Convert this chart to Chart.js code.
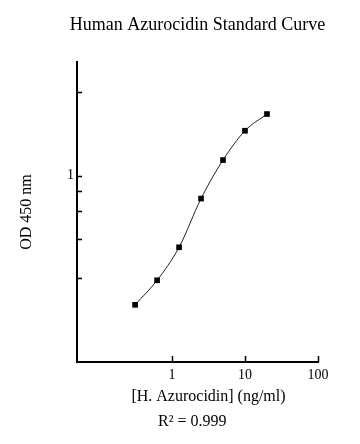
<!DOCTYPE html>
<html>
<head>
<meta charset="utf-8">
<script src="https://cdn.jsdelivr.net/npm/chart.js@4.4.1/dist/chart.umd.min.js"></script>
<style>
  html, body { margin: 0; padding: 0; background: #ffffff; }
  #wrap { width: 360px; height: 444px; position: relative; }
</style>
</head>
<body>
<div id="wrap"><canvas id="c"></canvas></div>
<script>
// ---- data ----
const concentrations = [0.3125, 0.625, 1.25, 2.5, 5, 10, 20];      // ng/ml
const odValues       = [0.156, 0.222, 0.357, 0.72, 1.253, 1.911, 2.43]; // OD 450 nm
const xTickValues = [1, 10, 100];
const yTickValues = [3.35, 1, 0.8, 0.6, 0.4, 0.23];
const yLabelled   = [1];
const titleText = 'Human Azurocidin Standard Curve';
const xTitleText = '[H. Azurocidin] (ng/ml)';
const yTitleText = 'OD 450 nm';
const r2Text = 'R\u00B2 = 0.999';

const FONT = '"Liberation Serif", "Times New Roman", serif';

const inwardTicks = {
  id: 'inwardTicks',
  afterDraw(chart) {
    const ctx = chart.ctx;
    const xs = chart.scales.x, ys = chart.scales.y;
    const a = chart.chartArea;
    ctx.save();
    ctx.strokeStyle = '#000';
    ctx.lineWidth = 1.5;
    ctx.beginPath();
    xs.ticks.forEach(t => {
      const px = Math.round(xs.getPixelForValue(t.value)) + 0.5;
      ctx.moveTo(px, a.bottom);
      ctx.lineTo(px, a.bottom - 6);
    });
    ys.ticks.forEach(t => {
      const py = Math.round(ys.getPixelForValue(t.value)) + 0.5;
      ctx.moveTo(a.left, py);
      ctx.lineTo(a.left + 5, py);
    });
    ctx.stroke();

    ctx.fillStyle = '#000';
    ctx.textBaseline = 'alphabetic';
    ctx.textAlign = 'center';
    ctx.font = '18px ' + FONT;
    ctx.fillText(titleText, 197.5, 30);
    ctx.font = '16px ' + FONT;
    ctx.fillText(xTitleText, 208.5, 401);
    ctx.textAlign = 'left';
    ctx.fillText(r2Text, 158, 426);
    ctx.restore();
  }
};

new Chart(document.getElementById('c'), {
  type: 'line',
  data: {
    datasets: [{
      data: concentrations.map((c, i) => ({ x: c, y: odValues[i] })),
      borderColor: '#222222',
      borderWidth: 1,
      pointStyle: 'rect',
      pointRadius: 4,
      pointBackgroundColor: '#000',
      pointBorderColor: '#000',
      pointBorderWidth: 0,
      cubicInterpolationMode: 'monotone',
      fill: false
    }]
  },
  options: {
    responsive: true,
    maintainAspectRatio: false,
    animation: false,
    events: [],
    layout: { padding: { top: 62, right: 42, bottom: 0, left: 0 } },
    plugins: { legend: { display: false }, tooltip: { enabled: false }, title: { display: false } },
    scales: {
      x: {
        type: 'logarithmic',
        min: 0.05,
        max: 100,
        afterBuildTicks: s => { s.ticks = xTickValues.map(v => ({ value: v })); },
        afterFit: s => { s.height = 82; },
        grid: { display: false, drawTicks: false },
        border: { display: true, color: '#000', width: 2 },
        ticks: {
          color: '#000',
          font: { family: FONT, size: 14 },
          padding: 5,
          maxRotation: 0,
          autoSkip: false,
          callback: v => String(v)
        }
      },
      y: {
        type: 'logarithmic',
        min: 0.0685,
        max: 5.14,
        afterBuildTicks: s => { s.ticks = yTickValues.map(v => ({ value: v })); },
        afterFit: s => { s.width = 77; },
        grid: { display: false, drawTicks: false },
        border: { display: true, color: '#000', width: 2 },
        title: {
          display: true,
          text: yTitleText,
          color: '#000',
          font: { family: FONT, size: 16 },
          padding: { top: 17, bottom: 0 }
        },
        ticks: {
          color: '#000',
          font: { family: FONT, size: 14 },
          padding: 3,
          autoSkip: false,
          callback: v => (yLabelled.includes(v) ? String(v) : '')
        }
      }
    }
  },
  plugins: [inwardTicks]
});
</script>
</body>
</html>
